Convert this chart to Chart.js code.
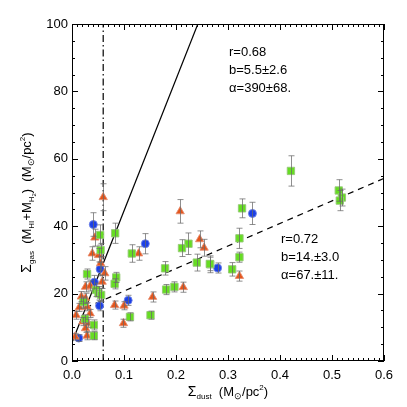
<!DOCTYPE html>
<html>
<head>
<meta charset="utf-8">
<script src="https://cdn.jsdelivr.net/npm/chart.js@4/dist/chart.umd.min.js"></script>
<style>
  html, body { margin: 0; padding: 0; background: #fff; }
  #wrap { width: 407px; height: 407px; }
</style>
</head>
<body>
<div id="wrap"><canvas id="c" width="407" height="407"></canvas></div>
<script>
// ejes
const xTickLabels = ['0.0', '0.1', '0.2', '0.3', '0.4', '0.5', '0.6'];
const yTickLabels = ['0', '20', '40', '60', '80', '100'];

// cuadrados verdes
const greenX = [0.421, 0.513, 0.519, 0.515, 0.327, 0.322, 0.322, 0.266, 0.308, 0.240, 0.265, 0.224, 0.2115, 0.179, 0.181, 0.197, 0.115, 0.1115, 0.151, 0.083, 0.054, 0.055, 0.029, 0.085, 0.082, 0.046, 0.051, 0.056, 0.042, 0.042, 0.022, 0.025];
const greenY = [56.4, 50.6, 48.5, 47.6, 45.3, 36.4, 30.8, 28.7, 27.2, 29.2, 28.8, 34.8, 33.5, 27.5, 21.2, 22.0, 31.9, 13.1, 13.6, 37.9, 37.4, 32.9, 25.8, 24.8, 22.9, 21.1, 20.1, 19.6, 10.7, 7.5, 17.5, 12.5];
const greenErr = [4.5, 3.2, 2.5, 3.0, 2.8, 3.0, 1.5, 2.5, 2.0, 2.5, 2.0, 3.2, 2.5, 2.0, 1.5, 1.5, 2.6, 1.2, 1.2, 3.0, 3.0, 2.0, 1.5, 1.5, 1.5, 2.0, 2.0, 2.0, 1.5, 1.2, 1.5, 1.2];

// triángulos naranjas
const orangeX = [0.060, 0.044, 0.039, 0.051, 0.128, 0.055, 0.063, 0.058, 0.026, 0.035, 0.018, 0.026, 0.022, 0.014, 0.029, 0.082, 0.100, 0.008, 0.021, 0.031, 0.026, 0.029, 0.006, 0.035, 0.099, 0.208, 0.2455, 0.254, 0.322, 0.214, 0.155];
const orangeY = [48.6, 36.6, 31.9, 31.4, 31.9, 29.0, 26.0, 23.5, 22.0, 22.3, 19.1, 18.6, 17.1, 15.9, 16.1, 16.6, 16.4, 13.6, 11.7, 11.2, 9.7, 7.5, 7.2, 14.1, 11.2, 44.4, 36.1, 33.6, 25.2, 21.9, 19.0];
const orangeErr = [4.0, 2.5, 2.0, 2.0, 2.0, 2.0, 2.0, 2.0, 1.5, 1.5, 1.5, 1.5, 1.5, 1.2, 1.2, 1.2, 1.2, 1.2, 1.2, 1.2, 1.2, 1.2, 1.0, 1.2, 1.2, 3.5, 2.5, 2.5, 1.5, 1.5, 1.5];

// círculos azules
const blueX = [0.041, 0.054, 0.043, 0.053, 0.013, 0.108, 0.141, 0.347, 0.280];
const blueY = [40.5, 27.3, 23.4, 16.4, 6.8, 18.0, 34.8, 43.8, 27.6];
const blueErr = [3.5, 2.0, 2.0, 1.5, 1.0, 1.5, 3.0, 3.3, 1.5];

// ajustes y corte
const fitSteep = [{ x: 0, y: 5.5 }, { x: 0.242, y: 100 }];
const fitShallow = [{ x: 0.026, y: 15.8 }, { x: 0.6, y: 54.2 }];
const cutLine = [{ x: 0.06, y: 0 }, { x: 0.06, y: 100 }];

const fitSteepText = ['r=0.68', 'b=5.5±2.6', 'α=390±68.'];
const fitShallowText = ['r=0.72', 'b=14.±3.0', 'α=67.±11.'];

const pts = (xs, ys) => xs.map((x, i) => ({ x, y: ys[i] }));

Chart.defaults.font.family = '"Liberation Sans", Arial, sans-serif';
Chart.defaults.font.size = 13;
Chart.defaults.color = '#000';

const FONT = '"Liberation Sans", Arial, sans-serif';

/** Marco negro y marcas hacia dentro en los cuatro lados. */
const framePlugin = {
  id: 'frame',
  afterDraw(chart) {
    const { ctx, chartArea: a, scales: { x, y } } = chart;
    ctx.save();
    ctx.strokeStyle = '#000';
    ctx.lineWidth = 1;
    ctx.strokeRect(a.left + 0.5, a.top + 0.5, a.right - a.left - 1, a.bottom - a.top - 1);
    ctx.beginPath();
    for (let i = 0; i <= 60; i++) {
      const px = Math.round(x.getPixelForValue(i / 100)) + 0.5;
      const len = i % 10 === 0 ? 6 : 3;
      ctx.moveTo(px, a.bottom); ctx.lineTo(px, a.bottom - len);
      ctx.moveTo(px, a.top); ctx.lineTo(px, a.top + len);
    }
    for (let i = 0; i <= 20; i++) {
      const py = Math.round(y.getPixelForValue(i * 5)) + 0.5;
      const len = i % 4 === 0 ? 6 : 3;
      ctx.moveTo(a.left, py); ctx.lineTo(a.left + len, py);
      ctx.moveTo(a.right, py); ctx.lineTo(a.right - len, py);
    }
    ctx.stroke();
    ctx.restore();
  },
};

/** Barras de error verticales en gris. */
const errorPlugin = {
  id: 'errbars',
  afterDatasetsDraw(chart) {
    const { ctx, chartArea: a, scales: { x, y } } = chart;
    ctx.save();
    ctx.beginPath();
    ctx.rect(a.left, a.top, a.right - a.left, a.bottom - a.top);
    ctx.clip();
    ctx.strokeStyle = 'rgba(105,105,105,0.75)';
    ctx.lineWidth = 1;
    chart.data.datasets.forEach((ds) => {
      if (!ds.errors) return;
      ds.data.forEach((p, i) => {
        const e = ds.errors[i];
        const px = Math.round(x.getPixelForValue(p.x)) + 0.5;
        const y0 = y.getPixelForValue(p.y - e);
        const y1 = y.getPixelForValue(p.y + e);
        ctx.beginPath();
        ctx.moveTo(px, y0); ctx.lineTo(px, y1);
        ctx.moveTo(px - 3, y0); ctx.lineTo(px + 3, y0);
        ctx.moveTo(px - 3, y1); ctx.lineTo(px + 3, y1);
        ctx.stroke();
      });
    });
    ctx.restore();
  },
};

// texto con subíndices: [texto, tamaño, desplazamiento]
function drawRich(ctx, parts, cx, cy) {
  const w = parts.reduce((s, [t, sz]) => {
    ctx.font = `${sz}px ${FONT}`;
    return s + ctx.measureText(t).width;
  }, 0);
  let px = cx - w / 2;
  parts.forEach(([t, sz, dy]) => {
    ctx.font = `${sz}px ${FONT}`;
    ctx.fillText(t, px, cy + dy);
    px += ctx.measureText(t).width;
  });
}

const labelsPlugin = {
  id: 'labels',
  afterDraw(chart) {
    const { ctx, chartArea: a, scales: { x, y } } = chart;
    ctx.save();
    ctx.fillStyle = '#000';
    ctx.textBaseline = 'alphabetic';

    drawRich(ctx, [
      ['Σ', 14, 0], ['dust', 8, 3], ['  (M', 13, 0], ['⊙', 9, 3],
      ['/pc', 13, 0], ['2', 8, -6], [')', 13, 0],
    ], (a.left + a.right) / 2, 396);

    ctx.translate(31, (a.top + a.bottom) / 2 + 10);
    ctx.rotate(-Math.PI / 2);
    drawRich(ctx, [
      ['Σ', 14, 0], ['gas', 8, 3], ['  (M', 13, 0], ['HI', 8, 3], ['+M', 13, 0],
      ['H', 8, 3], ['2', 6, 5], [')  (M', 13, 0], ['⊙', 9, 3],
      ['/pc', 13, 0], ['2', 8, -6], [')', 13, 0],
    ], 0, 0);
    ctx.setTransform(chart.currentDevicePixelRatio, 0, 0, chart.currentDevicePixelRatio, 0, 0);

    ctx.font = `13px ${FONT}`;
    ctx.textAlign = 'left';
    ctx.textBaseline = 'middle';
    fitSteepText.forEach((t, i) =>
      ctx.fillText(t, x.getPixelForValue(0.302), y.getPixelForValue(91.7) + i * 18));
    fitShallowText.forEach((t, i) =>
      ctx.fillText(t, x.getPixelForValue(0.402), y.getPixelForValue(36.2) + i * 18));
    ctx.restore();
  },
};

new Chart(document.getElementById('c'), {
  type: 'scatter',
  data: {
    datasets: [
      { data: pts(greenX, greenY), errors: greenErr, pointStyle: 'rect', pointRadius: 5.2,
        backgroundColor: '#66dd22', borderColor: 'rgba(150,200,120,0.9)', borderWidth: 1 },
      { data: pts(orangeX, orangeY), errors: orangeErr, pointStyle: 'triangle', pointRadius: 4.8,
        backgroundColor: '#e4561c', borderColor: 'rgba(230,140,110,0.9)', borderWidth: 1 },
      { data: pts(blueX, blueY), errors: blueErr, pointStyle: 'circle', pointRadius: 4,
        backgroundColor: '#1b3fe6', borderColor: 'rgba(110,130,230,0.9)', borderWidth: 1 },
      { type: 'line', data: fitSteep, borderColor: '#000', borderWidth: 1.2, pointRadius: 0, fill: false },
      { type: 'line', data: fitShallow, borderColor: '#000', borderWidth: 1.2, borderDash: [6, 5], pointRadius: 0, fill: false },
      { type: 'line', data: cutLine, borderColor: '#000', borderWidth: 1.2, borderDash: [7, 3, 1.5, 3], pointRadius: 0, fill: false },
    ],
  },
  options: {
    responsive: false,
    animation: false,
    events: [],
    layout: { padding: { top: 24, right: 23, left: 0, bottom: 0 } },
    plugins: { legend: { display: false }, tooltip: { enabled: false } },
    scales: {
      x: {
        type: 'linear', min: 0, max: 0.6,
        afterFit: (s) => { s.height = 46; },
        grid: { display: false, drawTicks: false },
        border: { display: false },
        ticks: { stepSize: 0.1, padding: 7, maxRotation: 0, callback: (v, i) => xTickLabels[i] },
      },
      y: {
        type: 'linear', min: 0, max: 100,
        afterFit: (s) => { s.width = 72; },
        grid: { display: false, drawTicks: false },
        border: { display: false },
        ticks: { stepSize: 20, padding: 4, callback: (v, i) => yTickLabels[i] },
      },
    },
  },
  plugins: [errorPlugin, framePlugin, labelsPlugin],
});
</script>
</body>
</html>
